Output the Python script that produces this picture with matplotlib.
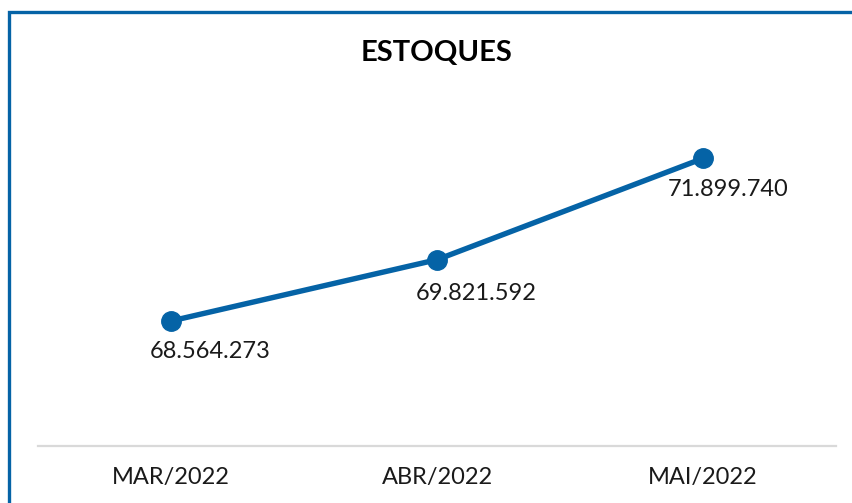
import matplotlib
matplotlib.use("Agg")
import matplotlib.pyplot as plt
from matplotlib.patches import Rectangle

# dados do gráfico de estoques
meses = ["MAR/2022", "ABR/2022", "MAI/2022"]
estoques = [68564273, 69821592, 71899740]
rotulos = ["68.564.273", "69.821.592", "71.899.740"]

azul = "#0563a6"
plt.rcParams['font.family'] = ['Lato', 'DejaVu Sans']

fig = plt.figure(figsize=(8.53, 5.03), dpi=100)
ax = fig.add_axes([38/853, 1 - 446/503, 798/853, 390/503])

x = list(range(len(meses)))
ax.plot(x, estoques, color=azul, lw=3.9, marker="o", markersize=14, solid_capstyle="round")

# deslocamento dos rótulos (em pixels) relativo a cada ponto
desloc = [(39, -31), (39, -34), (25, -31)]
for xi, yi, txt, (dx, dy) in zip(x, estoques, rotulos, desloc):
    ax.annotate(txt, (xi, yi), xytext=(dx * 0.72, dy * 0.72), textcoords="offset points",
                ha="center", va="center", fontsize=17, color="#1a1a1a")

ax.set_xlim(-0.5, 2.5)
ax.set_ylim(66e6, 74e6)
ax.set_xticks(x)
ax.set_xticklabels(meses, fontsize=17, color="#1a1a1a")
ax.tick_params(axis="x", length=0, pad=15)
ax.set_yticks([])
for s in ["top", "right", "left"]:
    ax.spines[s].set_visible(False)
ax.spines["bottom"].set_color("#d9d9d9")
ax.spines["bottom"].set_linewidth(1.6)

fig.text(437/853, 1 - 53/503, "ESTOQUES", ha="center", va="center",
         fontsize=21, fontweight="bold", color="#000000")

# moldura azul (cortada à direita e embaixo)
fig.patches.append(Rectangle((8.5/853, -0.2), 1.2, 1.2 - 12/503, transform=fig.transFigure,
                             fill=False, edgecolor=azul, lw=2.4, figure=fig))

fig.savefig("out.png", dpi=100)
